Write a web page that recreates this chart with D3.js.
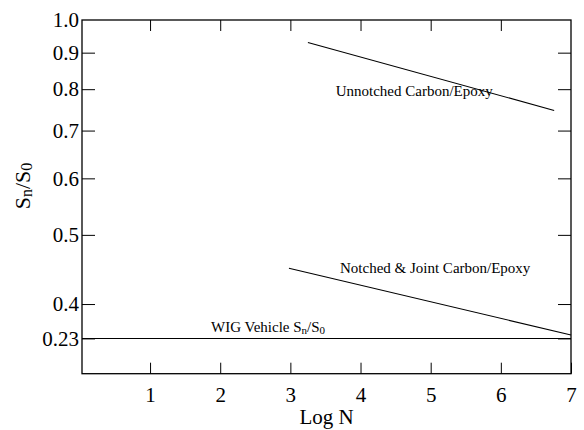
<!DOCTYPE html>
<html>
<head>
<meta charset="utf-8">
<script src="https://cdn.jsdelivr.net/npm/d3@7"></script>
<style>
  body { margin: 0; background: #fff; }
  svg { display: block; }
  text { font-family: "Liberation Serif", "Times New Roman", serif; fill: #000; }
</style>
</head>
<body>
<svg id="chart" width="584" height="430"></svg>
<script>
// ---- data ----
const xTicks = [1, 2, 3, 4, 5, 6, 7];
const yTicks = [1.0, 0.9, 0.8, 0.7, 0.6, 0.5, 0.4, 0.358];
const yTickLabels = ["1.0", "0.9", "0.8", "0.7", "0.6", "0.5", "0.4", "0.23"];
const unnotchedX = [3.25, 6.76];
const unnotchedY = [0.930, 0.747];
const notchedX = [2.98, 7.0];
const notchedY = [0.449, 0.362];
const wigX = [0.03, 7.0];
const wigY = [0.358, 0.358];
const annotations = [
  { x: 3.646, y: 0.7815, text: "Unnotched Carbon/Epoxy" },
  { x: 3.707, y: 0.4426, text: "Notched & Joint Carbon/Epoxy" },
  { x: 1.869, y: 0.3656, text: "WIG Vehicle ", sub: true }
];

// ---- layout ----
const mLeft = 82, mRight = 571, mTop = 20, mBottom = 373.7;
const svg = d3.select("#chart");

const x = d3.scaleLinear().domain([0.03, 7]).range([mLeft, mRight]);
const y = d3.scaleLog().domain([0.3195, 1.0]).range([mBottom, mTop]);

const fs = 21;

const gB = svg.append("g").attr("transform", `translate(0,${mBottom})`)
  .call(d3.axisBottom(x).tickValues(xTicks).tickFormat(d3.format("d"))
    .tickSize(-11).tickPadding(13));
const gT = svg.append("g").attr("transform", `translate(0,${mTop})`)
  .call(d3.axisTop(x).tickValues(xTicks.slice(0, -1)).tickFormat("").tickSize(-11));
const gL = svg.append("g").attr("transform", `translate(${mLeft},0)`)
  .call(d3.axisLeft(y).tickValues(yTicks)
    .tickFormat((d, i) => yTickLabels[i]).tickSize(-13).tickPadding(3));
const gR = svg.append("g").attr("transform", `translate(${mRight},0)`)
  .call(d3.axisRight(y).tickValues(yTicks.slice(1)).tickFormat("").tickSize(-13));

[gB, gT, gL, gR].forEach(g => {
  g.select(".domain").remove();
  g.selectAll(".tick line").attr("stroke", "#000").attr("stroke-width", 1);
  g.selectAll("text").attr("font-size", fs).attr("font-family", "Liberation Serif").attr("fill", "#000");
});
gL.selectAll(".tick").filter(d => d === 1.0).select("line").remove();

svg.append("rect").attr("x", mLeft).attr("y", mTop)
  .attr("width", mRight - mLeft).attr("height", mBottom - mTop)
  .attr("fill", "none").attr("stroke", "#000").attr("stroke-width", 1.3);

const line = d3.line().x(d => x(d[0])).y(d => y(d[1]));
[[unnotchedX, unnotchedY], [notchedX, notchedY], [wigX, wigY]].forEach(([xs, ys]) => {
  svg.append("path").datum(xs.map((v, i) => [v, ys[i]]))
    .attr("d", line).attr("fill", "none").attr("stroke", "#000").attr("stroke-width", 1.1);
});

annotations.forEach(a => {
  const t = svg.append("text").attr("x", x(a.x)).attr("y", y(a.y)).attr("font-size", 15);
  t.append("tspan").text(a.text);
  if (a.sub) {
    t.append("tspan").text("S");
    t.append("tspan").text("n").attr("font-size", 11).attr("dy", 2);
    t.append("tspan").text("/S").attr("dy", -2);
    t.append("tspan").text("0").attr("font-size", 11).attr("dy", 2);
  }
});

svg.append("text").attr("x", (mLeft + mRight) / 2).attr("y", 424)
  .attr("text-anchor", "middle").attr("font-size", fs).text("Log N");

const yt = svg.append("text")
  .attr("transform", "translate(30,186) rotate(-90)")
  .attr("text-anchor", "middle").attr("font-size", 22);
yt.append("tspan").text("S");
yt.append("tspan").text("n").attr("font-size", 16).attr("dy", 2);
yt.append("tspan").text("/S").attr("dy", -2);
yt.append("tspan").text("0").attr("font-size", 16).attr("dy", 2);
</script>
</body>
</html>
